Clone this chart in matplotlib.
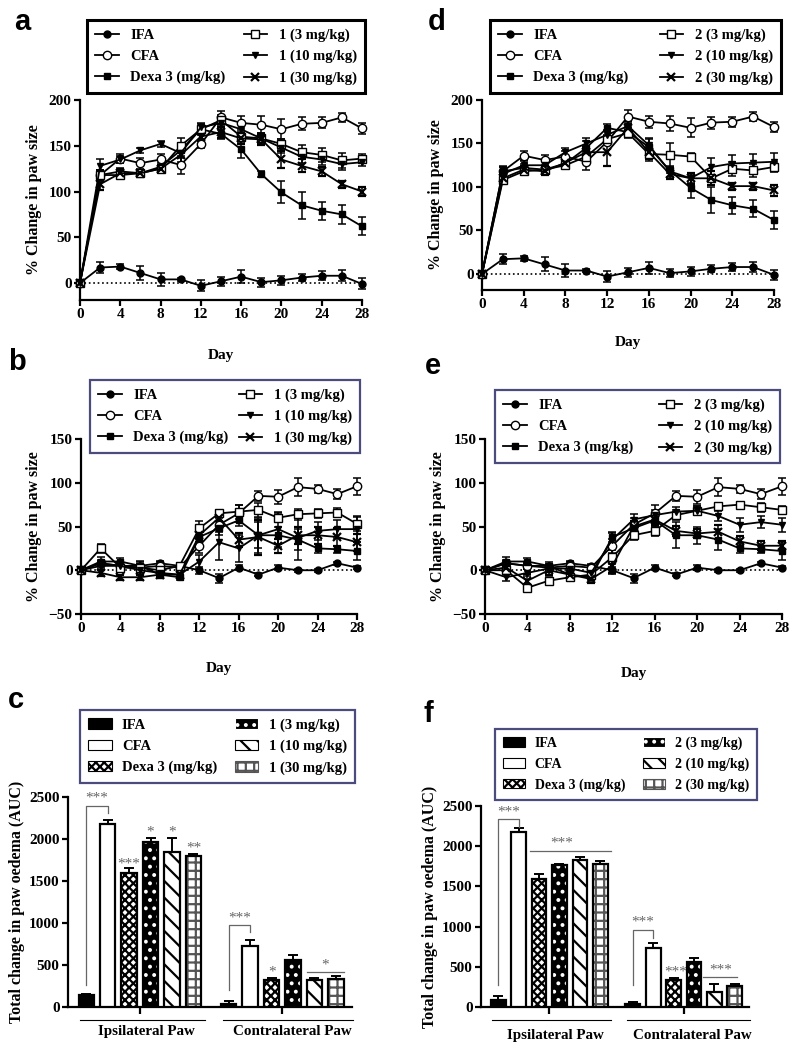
import matplotlib
matplotlib.use("Agg")
import matplotlib.pyplot as plt
from matplotlib.patches import Patch
from matplotlib.lines import Line2D
import numpy as np

plt.rcParams['font.family'] = ['Liberation Serif', 'DejaVu Serif']
plt.rcParams['font.weight'] = 'bold'
plt.rcParams['axes.labelweight'] = 'bold'
plt.rcParams['hatch.linewidth'] = 1.6

W, H = 797, 1050

days = np.arange(0, 29, 2)

# ---- ipsilateral paw (panels a, d) ----
ipsi_ifa = [0, 17, 18, 11, 4, 4, -3, 2, 7, 1, 3, 6, 8, 8, -1]
ipsi_ifa_err = [0, 6, 3, 8, 7, 2, 6, 5, 7, 5, 5, 4, 5, 6, 6]
ipsi_cfa = [0, 118, 136, 131, 135, 129, 152, 181, 175, 173, 168, 174, 175, 181, 169]
ipsi_cfa_err = [0, 6, 5, 6, 6, 10, 4, 7, 7, 9, 11, 7, 6, 5, 6]
ipsi_dexa = [0, 118, 122, 120, 127, 145, 168, 163, 146, 119, 99, 85, 79, 75, 62]
ipsi_dexa_err = [0, 5, 4, 4, 4, 8, 4, 6, 9, 3, 12, 15, 10, 10, 10]

a_3 = [0, 118, 118, 120, 125, 150, 168, 178, 160, 158, 152, 143, 140, 134, 136]
a_3_err = [0, 5, 4, 4, 4, 8, 6, 6, 6, 5, 5, 8, 8, 8, 5]
a_10 = [0, 128, 135, 145, 152, 142, 170, 175, 168, 158, 148, 138, 135, 130, 132]
a_10_err = [0, 8, 4, 3, 3, 10, 5, 8, 6, 6, 6, 7, 6, 6, 4]
a_30 = [0, 108, 120, 120, 125, 140, 160, 165, 158, 157, 135, 128, 122, 108, 100]
a_30_err = [0, 6, 4, 4, 4, 10, 5, 6, 6, 6, 9, 7, 5, 4, 5]

d_3 = [0, 108, 118, 120, 125, 135, 155, 162, 138, 137, 135, 110, 121, 119, 123]
d_3_err = [0, 5, 4, 4, 4, 6, 5, 6, 8, 14, 4, 8, 8, 8, 6]
d_10 = [0, 115, 125, 125, 140, 150, 160, 170, 148, 118, 110, 123, 127, 128, 129]
d_10_err = [0, 8, 5, 5, 5, 6, 5, 6, 8, 6, 5, 10, 10, 10, 10]
d_30 = [0, 110, 120, 118, 128, 140, 140, 168, 140, 115, 110, 110, 101, 101, 96]
d_30_err = [0, 5, 4, 4, 4, 6, 16, 8, 8, 6, 6, 8, 4, 4, 6]

# ---- contralateral paw (panels b, e) ----
contra_ifa = [0, 8, 5, 5, 8, 5, 0, -9, 3, -5, 3, 0, 0, 8, 3]
contra_ifa_err = [0, 3, 3, 2, 3, 2, 4, 5, 3, 2, 3, 2, 2, 2, 2]
contra_cfa = [0, 8, 5, 3, 5, 3, 28, 52, 65, 85, 84, 95, 93, 87, 96]
contra_cfa_err = [0, 4, 3, 4, 4, 3, 8, 8, 10, 6, 8, 10, 5, 6, 10]
contra_dexa = [0, 10, 10, 5, -5, -8, 38, 48, 57, 40, 40, 35, 25, 24, 22]
contra_dexa_err = [0, 5, 4, 4, 4, 3, 6, 8, 6, 15, 10, 12, 5, 4, 10]

b_3 = [0, 25, 3, 3, 0, 5, 48, 65, 67, 69, 60, 64, 65, 66, 53]
b_3_err = [0, 5, 4, 8, 6, 3, 8, 4, 8, 8, 5, 6, 5, 5, 8]
b_10 = [0, 5, 5, 0, -3, -5, 10, 32, 25, 40, 47, 37, 45, 47, 47]
b_10_err = [0, 3, 3, 3, 3, 3, 8, 20, 15, 20, 20, 25, 10, 10, 15]
b_30 = [0, -3, -8, -8, -5, -5, 40, 60, 35, 38, 28, 40, 40, 38, 32]
b_30_err = [0, 3, 3, 3, 3, 3, 8, 8, 8, 20, 8, 10, 10, 10, 10]

e_3 = [0, 0, -20, -12, -8, -5, 15, 40, 45, 63, 68, 73, 75, 72, 69]
e_3_err = [0, 4, 4, 4, 4, 4, 8, 5, 6, 6, 5, 4, 3, 5, 5]
e_10 = [0, -8, -3, 2, 2, -3, 35, 58, 63, 67, 68, 62, 52, 55, 52]
e_10_err = [0, 4, 4, 4, 4, 4, 8, 6, 6, 5, 5, 6, 8, 7, 8]
e_30 = [0, 3, -12, 0, -5, -10, 5, 50, 58, 45, 42, 44, 33, 28, 28]
e_30_err = [0, 4, 8, 5, 4, 5, 8, 6, 6, 6, 5, 8, 6, 5, 5]

# ---- AUC bars (panels c, f) ----
groups = ['Ipsilateral Paw', 'Contralateral Paw']
c_ipsi = [140, 2175, 1590, 1965, 1845, 1795]
c_ipsi_err = [20, 50, 60, 45, 170, 30]
c_contra = [40, 730, 320, 565, 320, 330]
c_contra_err = [30, 65, 25, 50, 30, 40]
f_ipsi = [90, 2180, 1595, 1760, 1830, 1775]
f_ipsi_err = [45, 50, 55, 15, 30, 35]
f_contra = [40, 738, 338, 565, 186, 262]
f_contra_err = [25, 55, 25, 50, 95, 30]

NAVY = '#4b4b7e'
GREY = '#666666'
FS_TICK = 11
FS_LEG = 10.5

fig = plt.figure(figsize=(W / 100, H / 100), dpi=100)


def px_axes(l, t, r, b):
    return fig.add_axes([l / W, 1 - b / H, (r - l) / W, (b - t) / H])


def px_box(l, t, r, b):
    return (l / W, 1 - b / H, (r - l) / W, (b - t) / H)


def style_axes(ax):
    for s in ['top', 'right']:
        ax.spines[s].set_visible(False)
    for s in ['left', 'bottom']:
        ax.spines[s].set_linewidth(1.6)
    ax.tick_params(width=1.6, length=4, labelsize=FS_TICK, pad=2)


line_styles = [
    dict(marker='o', mfc='black', ms=5),
    dict(marker='o', mfc='white', ms=6),
    dict(marker='s', mfc='black', ms=5),
    dict(marker='s', mfc='white', ms=6),
    dict(marker='v', mfc='black', ms=5),
    dict(marker='x', mfc='black', ms=6, mew=1.6),
]


def line_panel(box, series, errs, labels, ylim, yticks, legbox, legcolor, leglw, xlabel_pad):
    ax = px_axes(*box)
    style_axes(ax)
    ax.plot([0, 28], [0, 0], ':', color='black', lw=1.2, zorder=1)
    handles = []
    for vals, err, st in zip(series, errs, line_styles):
        ax.errorbar(days, vals, yerr=err, color='black', lw=1.3, capsize=3,
                    elinewidth=1.1, capthick=1.1, mec='black', clip_on=False,
                    zorder=3, **st)
        handles.append(Line2D([], [], color='black', lw=1.3, mec='black', **st))
    ax.set_xlim(0, 28)
    ax.set_ylim(*ylim)
    ax.set_xticks(range(0, 29, 4))
    ax.set_yticks(yticks)
    ax.set_xlabel('Day', fontsize=11, labelpad=xlabel_pad)
    ax.set_ylabel('% Change in paw size', fontsize=11.5, labelpad=5)
    leg = fig.legend(handles, labels, ncol=2, loc='upper left',
                     bbox_to_anchor=px_box(*legbox), mode='expand',
                     fontsize=FS_LEG, handlelength=1.6, handletextpad=0.8,
                     labelspacing=0.55, borderpad=0.55, fancybox=False,
                     edgecolor=legcolor, framealpha=1)
    leg.get_frame().set_linewidth(leglw)
    return ax


def labels_for(n):
    return ['IFA', 'CFA', 'Dexa 3 (mg/kg)', f'{n} (3 mg/kg)', f'{n} (10 mg/kg)',
            f'{n} (30 mg/kg)']


line_panel((80, 100, 362, 300),
           [ipsi_ifa, ipsi_cfa, ipsi_dexa, a_3, a_10, a_30],
           [ipsi_ifa_err, ipsi_cfa_err, ipsi_dexa_err, a_3_err, a_10_err, a_30_err],
           labels_for(1), (-18.5, 200), [0, 50, 100, 150, 200],
           (80, 13, 372, 97), 'black', 2.2, 20)
line_panel((482, 100, 774, 290),
           [ipsi_ifa, ipsi_cfa, ipsi_dexa, d_3, d_10, d_30],
           [ipsi_ifa_err, ipsi_cfa_err, ipsi_dexa_err, d_3_err, d_10_err, d_30_err],
           labels_for(2), (-18.4, 200), [0, 50, 100, 150, 200],
           (483, 13, 788, 95), 'black', 2.2, 18)
line_panel((81, 439, 357, 614),
           [contra_ifa, contra_cfa, contra_dexa, b_3, b_10, b_30],
           [contra_ifa_err, contra_cfa_err, contra_dexa_err, b_3_err, b_10_err, b_30_err],
           labels_for(1), (-50, 150), [-50, 0, 50, 100, 150],
           (83, 373, 367, 457), NAVY, 1.6, 19)
line_panel((485, 439, 782, 614),
           [contra_ifa, contra_cfa, contra_dexa, e_3, e_10, e_30],
           [contra_ifa_err, contra_cfa_err, contra_dexa_err, e_3_err, e_10_err, e_30_err],
           labels_for(2), (-50, 150), [-50, 0, 50, 100, 150],
           (488, 383, 787, 465), NAVY, 1.6, 23)

# bar styles: (face, hatch, hatch colour)
bar_styles = [
    ('black', None, 'black'),
    ('white', None, 'black'),
    ('white', 'xxxx', 'black'),
    ('black', '..', 'white'),
    ('white', '\\\\', 'black'),
    ('white', '++', '#555555'),
]


def bar_panel(box, ipsi, ipsi_err, contra, contra_err, n, gap, xmax, legbox,
              line_y, text_y, legfs):
    ax = px_axes(*box)
    style_axes(ax)
    x_ipsi = np.arange(6)
    x_contra = np.arange(6) + gap
    w = 0.72
    handles = []
    for i, (fc, hatch, hc) in enumerate(bar_styles):
        xs = [x_ipsi[i], x_contra[i]]
        hs = [ipsi[i], contra[i]]
        es = [ipsi_err[i], contra_err[i]]
        ax.errorbar(xs, hs, yerr=[[0, 0], es], fmt='none', ecolor='black',
                    elinewidth=1.4, capsize=3.5, capthick=1.4, zorder=2)
        ax.bar(xs, hs, w, color=fc, edgecolor=hc, hatch=hatch, lw=0, zorder=3)
        ax.bar(xs, hs, w, fill=False, edgecolor='black', lw=1.6, zorder=4)
        handles.append(Patch(facecolor=fc, edgecolor=hc if hatch else 'black',
                             hatch=hatch, lw=0.8))
    ax.set_xlim(-0.85, xmax)
    ax.set_ylim(0, 2500)
    ax.set_yticks([0, 500, 1000, 1500, 2000, 2500])
    ax.set_xticks([2.5, gap + 2.5])
    ax.set_xticklabels([])
    ax.tick_params(axis='x', length=5)
    ax.set_ylabel('Total change in paw oedema (AUC)', fontsize=11.5, labelpad=3)
    tr = ax.get_xaxis_transform()
    spans = [(-0.31, 5.55), (gap - 0.28, xmax + 0.05)]
    for (x0, x1), g in zip(spans, groups):
        ax.plot([x0, x1], [line_y, line_y], color='black', lw=0.8,
                transform=tr, clip_on=False)
        ax.text((x0 + x1) / 2 + 0.2, text_y, g, transform=tr, ha='center',
                va='center', fontsize=10.8)
    leg = fig.legend(handles, labels_for(n), ncol=2, loc='upper left',
                     bbox_to_anchor=px_box(*legbox), mode='expand',
                     fontsize=legfs, handlelength=1.6, handleheight=0.7,
                     handletextpad=0.7, labelspacing=0.55, borderpad=0.55,
                     columnspacing=0.6, fancybox=False, edgecolor=NAVY,
                     framealpha=1)
    leg.get_frame().set_linewidth(1.6)
    return ax


def bracket(ax, x0, x1, y0, ytop, y1, stars):
    ax.plot([x0, x0, x1, x1], [y0, ytop, ytop, y1], color=GREY, lw=0.9,
            clip_on=False, zorder=5)
    ax.text((x0 + x1) / 2, ytop + 10, stars, ha='center', va='bottom',
            color=GREY, fontsize=11, fontweight='normal')


def hline(ax, x0, x1, y, stars, xs=None):
    ax.plot([x0, x1], [y, y], color=GREY, lw=0.9, clip_on=False, zorder=5)
    ax.text((x0 + x1) / 2 if xs is None else xs, y + 10, stars, ha='center',
            va='bottom', color=GREY, fontsize=11, fontweight='normal')


def star(ax, x, y, stars):
    ax.text(x, y, stars, ha='center', va='bottom', color=GREY, fontsize=11,
            fontweight='normal')


axc = bar_panel((68, 797, 352, 1007), c_ipsi, c_ipsi_err, c_contra, c_contra_err,
                1, 6.65, 12.4, (73, 703, 362, 788), -0.062, -0.118, 10.5)
bracket(axc, 0, 1, 260, 2396, 2310, '***')
star(axc, 3, 2010, '*')
star(axc, 4, 2010, '*')
star(axc, 5, 1820, '**')
star(axc, 2.0, 1630, '***')
bracket(axc, 6.65, 7.65, 200, 975, 888, '***')
star(axc, 8.65, 340, '*')
hline(axc, 10.28, 12.03, 418, '*', xs=11.15)

axf = bar_panel((481, 806, 749, 1007), f_ipsi, f_ipsi_err, f_contra, f_contra_err,
                2, 6.6, 12.3, (488, 722, 764, 798), -0.065, -0.144, 10)
bracket(axf, 0, 1, 277, 2334, 2243, '***')
hline(axf, 1.56, 5.54, 1945, '***', xs=3.1)
bracket(axf, 6.6, 7.6, 277, 960, 857, '***')
star(axf, 8.7, 350, '***')
hline(axf, 10.03, 11.7, 368, '***', xs=10.9)

for letter, x, y in [('a', 14, 8), ('b', 8, 348), ('c', 8, 686),
                     ('d', 428, 8), ('e', 425, 352), ('f', 423, 700)]:
    fig.text(x / W, 1 - y / H, letter, fontsize=21, fontweight='bold',
             family=['Liberation Sans', 'DejaVu Sans'], va='top', ha='left')

fig.savefig('out.png', dpi=100)
